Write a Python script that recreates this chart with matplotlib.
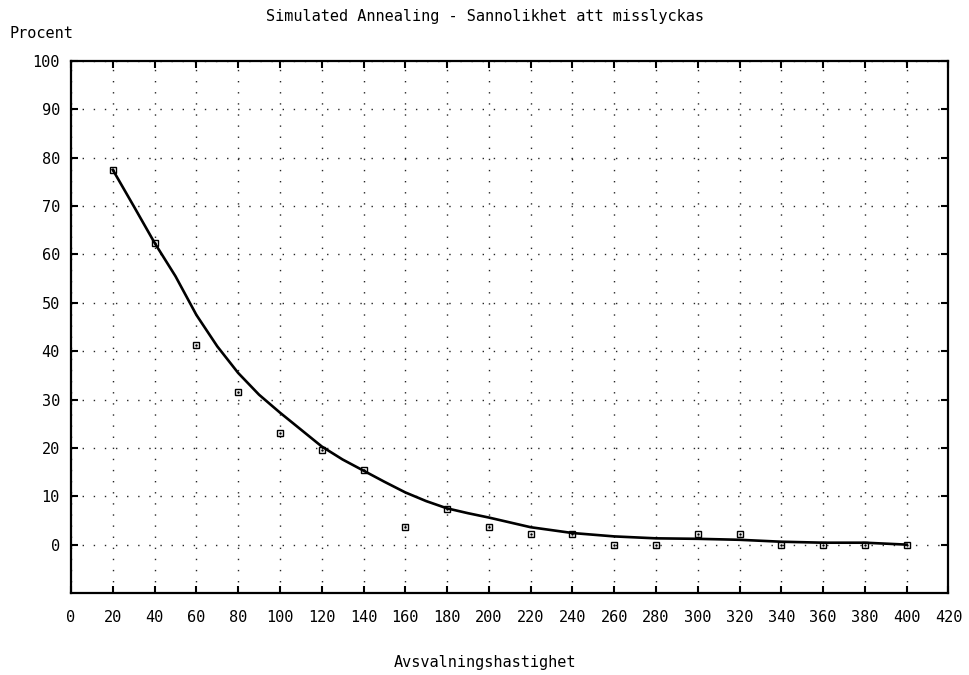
import numpy as np
import matplotlib
matplotlib.use("Agg")
import matplotlib.pyplot as plt

# avsvalningshastighet
hastighet = [20, 40, 60, 80, 100, 120, 140, 160, 180, 200,
             220, 240, 260, 280, 300, 320, 340, 360, 380, 400]
# uppmätt sannolikhet (procent)
procent = [77.5, 62.4, 41.3, 31.6, 23.0, 19.5, 15.4, 3.7, 7.4, 3.7,
           2.1, 2.1, 0.0, 0.0, 2.1, 2.1, 0.0, 0.0, 0.0, 0.0]
# anpassad kurva (avläst)
kurva_x = [20, 30, 40, 50, 60, 70, 80, 90, 100, 110, 120, 130, 140, 150,
           160, 170, 180, 190, 200, 220, 240, 260, 280, 300, 320, 340,
           360, 380, 400]
kurva_y = [77.5, 70.0, 62.4, 55.5, 47.5, 41.0, 35.5, 31.0, 27.3, 23.8,
           20.3, 17.6, 15.3, 13.0, 10.8, 9.0, 7.5, 6.5, 5.6, 3.6, 2.4,
           1.7, 1.3, 1.2, 1.0, 0.6, 0.4, 0.4, 0.0]

xticks = list(range(0, 421, 20))
yticks = list(range(0, 101, 10))

font = "DejaVu Sans Mono"
fs = 11

fig = plt.figure(figsize=(9.69, 6.75), dpi=100)
ax = fig.add_axes([0.0733, 0.1215, 0.9055, 0.7881])

ax.plot(kurva_x, kurva_y, color="black", lw=1.9, zorder=3)
ax.plot(hastighet, procent, linestyle="None", marker="s", markersize=5,
        markerfacecolor="none", markeredgecolor="black", markeredgewidth=1.0, zorder=4)
ax.plot(hastighet, procent, linestyle="None", marker=".", markersize=1.5,
        color="black", zorder=4)

ax.set_xlim(0, 420)
ax.set_ylim(-10, 100)
ax.set_xticks(xticks)
ax.set_yticks(yticks)
ax.set_xticklabels([str(t) for t in xticks], fontfamily=font, fontsize=fs)
ax.set_yticklabels([str(t) for t in yticks], fontfamily=font, fontsize=fs)
ax.tick_params(direction="in", length=5, width=1.5, top=True, right=True, pad=12)
ax.tick_params(axis="y", pad=8)

ax.grid(True, color="0.15", lw=1.0, linestyle=(0, (1, 7)))
for s in ax.spines.values():
    s.set_linewidth(1.6)

fig.text(0.5, 0.975, "Simulated Annealing - Sannolikhet att misslyckas",
         ha="center", va="center", fontfamily=font, fontsize=fs)
fig.text(0.010, 0.951, "Procent", ha="left", va="center", fontfamily=font, fontsize=fs)
fig.text(0.5, 0.019, "Avsvalningshastighet", ha="center", va="center",
         fontfamily=font, fontsize=fs)

fig.savefig("out.png", dpi=100)
